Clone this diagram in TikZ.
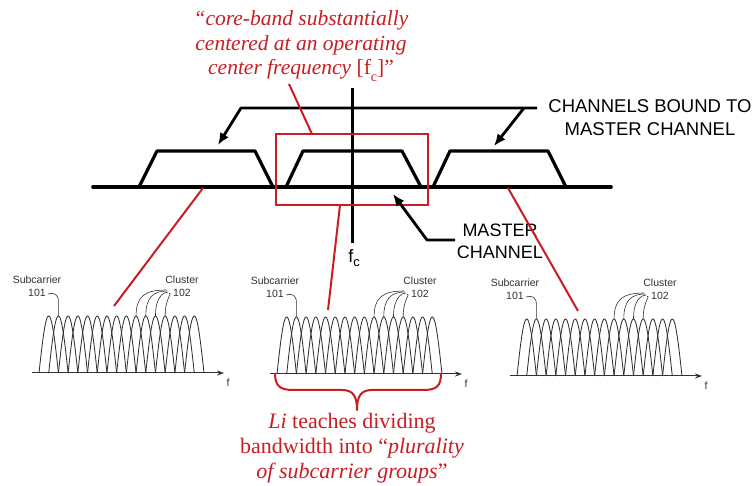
\documentclass[tikz,border=0pt]{standalone}
\usepackage{fontspec}
\setmainfont{Liberation Serif}
\setsansfont{Liberation Sans}
\usetikzlibrary{arrows.meta}
\definecolor{redc}{RGB}{200,30,35}
\definecolor{specgray}{RGB}{50,50,50}
\tikzset{
  chan/.style={line width=3.2pt, line join=round, line cap=round},
  baseln/.style={line width=3.6pt, line cap=round},
  bk/.style={line width=2.8pt, line join=round},
  bigtip/.style={-{Latex[length=12pt,width=10pt]}},
  bigtipstart/.style={{Latex[length=12pt,width=10pt]}-},
  redline/.style={draw=redc, line width=2pt},
  redtext/.style={text=redc, align=center, inner sep=0pt, anchor=north},
  caps/.style={font=\sffamily\fontsize{18.5}{23}\selectfont, align=center, inner sep=0pt, anchor=north},
  axisln/.style={line width=1pt, specgray, -{Stealth[length=7pt,width=5pt]}},
  lobe/.style={line width=0.85pt, specgray},
  lead/.style={line width=0.6pt, specgray},
  slab/.style={font=\sffamily\fontsize{10.5}{12}\selectfont, text=specgray, anchor=base, inner sep=0pt},
}
\newcommand\drawspectrum[3]{%
 \begin{scope}[shift={(#2,#3)}]
  \coordinate (#1ax0) at (-7,0);
  \coordinate (#1ax1) at (185,0);
  \draw[axisln] (#1ax0) -- (#1ax1);
  \foreach \k in {0,...,15} {
    \draw[lobe] plot[domain=-1:1,samples=31,smooth] ({(\k+1+\x)*9.706},{-57*cos(90*\x)});
  }
  \node[slab] (#1f) at (189,14) {f};
  \node[slab] (#1sub) at (-2,-89) {Subcarrier};
  \node[slab] (#1nA) at (-2,-76) {101};
  \node[slab] (#1clu) at (143,-89) {Cluster};
  \node[slab] (#1nB) at (143,-76) {102};
  \coordinate (#1la) at (9,-79);
  \coordinate (#1lb) at (19.4,-57);
  \draw[lead] (#1la) .. controls (15,-81) and (20,-79) .. (19.4,-70) -- (#1lb);
  \foreach \i/\px in {0/97.06,1/106.77,2/116.47,3/126.18} {
    \draw[lead] ({127+\i},{-83+\i}) .. controls ({\px+8},{-83+\i}) and (\px,-76) .. (\px,-57);
  }
 \end{scope}}
\begin{document}
\begin{tikzpicture}[x=1pt,y=-1pt]
\fill[white] (0,0) rectangle (756,486);
\useasboundingbox (0,0) rectangle (756,486);

% top red quote
\node[redtext, font=\fontsize{21.5}{24.5}\selectfont] (topt) at (301,10.5)
  {\itshape “core-band substantially\\
   \itshape centered at an operating\\
   {\itshape center frequency} [f\raisebox{-7pt}{\fontsize{14}{14}\selectfont c}]”};

% channels bound label and bracket
\node[caps] (cbt) at (650,99.5) {CHANNELS BOUND TO\\MASTER CHANNEL};
\coordinate (brL) at (241,108);
\coordinate (brR) at (537,108);
\coordinate (tipL) at (218,145);
\coordinate (brRs) at (524,108);
\coordinate (tipR) at (494,146);
\draw[bk, bigtipstart] (tipL) -- (brL) -- (brR);
\draw[bk, bigtip] (brRs) -- (tipR);

% spectrum line and channels
\coordinate (bl) at (93,187);
\coordinate (br) at (611,187);
\draw[chan] (139,187) -- (157,151) -- (255,151) -- (273,187);
\draw[chan] (286,187) -- (303,151) -- (402,151) -- (421,187);
\draw[chan] (433,187) -- (450,151) -- (548,151) -- (566,187);
\draw[baseln] (bl) -- (br);

% fc line
\coordinate (fcT) at (352,88);
\coordinate (fcB) at (352,243);
\draw[line width=3pt] (fcT) -- (fcB);
\node[font=\sffamily\fontsize{18}{18}\selectfont, anchor=base, inner sep=0pt] (fc) at (354,263)
  {f\raisebox{-4pt}{\fontsize{13}{13}\selectfont c}};

% red box
\node[draw=redc, line width=2.6pt, minimum width=152pt, minimum height=71pt, inner sep=0pt] (rbox) at (352,169.5) {};

% master channel
\node[caps, font=\sffamily\fontsize{18}{21.5}\selectfont] (mct) at (500,224) {MASTER\\CHANNEL};
\coordinate (ms) at (455,240);
\coordinate (mb) at (427,240);
\coordinate (mt) at (393,194);
\draw[bk, bigtip] (ms) -- (mb) -- (mt);

% red connectors
\coordinate (rt1) at (312,134);
\coordinate (rt2) at (289,84);
\draw[redline] (rt1) -- (rt2);
\coordinate (rl1) at (203,188);
\coordinate (rl2) at (114,306);
\draw[redline] (rl1) -- (rl2);
\coordinate (rm1) at (340,205);
\coordinate (rm2) at (328,310);
\draw[redline] (rm1) -- (rm2);
\coordinate (rr1) at (508,188);
\coordinate (rr2) at (578,311);
\draw[redline] (rr1) -- (rr2);

% spectra
\drawspectrum{sa}{39}{373}
\drawspectrum{sb}{277}{374}
\drawspectrum{sc}{517}{376}

% brace
\coordinate (bcL) at (275,373);
\coordinate (bcR) at (441,373);
\coordinate (bcT) at (357,410);
\draw[redline, line join=round] (bcL) .. controls (275,386) and (280,390) .. (293,390) -- (342,390)
   .. controls (353,390) and (357,396) .. (bcT)
   .. controls (357,396) and (361,390) .. (372,390) -- (423,390)
   .. controls (437,390) and (441,386) .. (bcR);

% bottom red text
\node[redtext, font=\fontsize{22}{25}\selectfont] (bott) at (352,413)
  {{\itshape Li} teaches dividing\\
   bandwidth into “{\itshape plurality}\\
   {\itshape of subcarrier groups}”};
\end{tikzpicture}
\end{document}
